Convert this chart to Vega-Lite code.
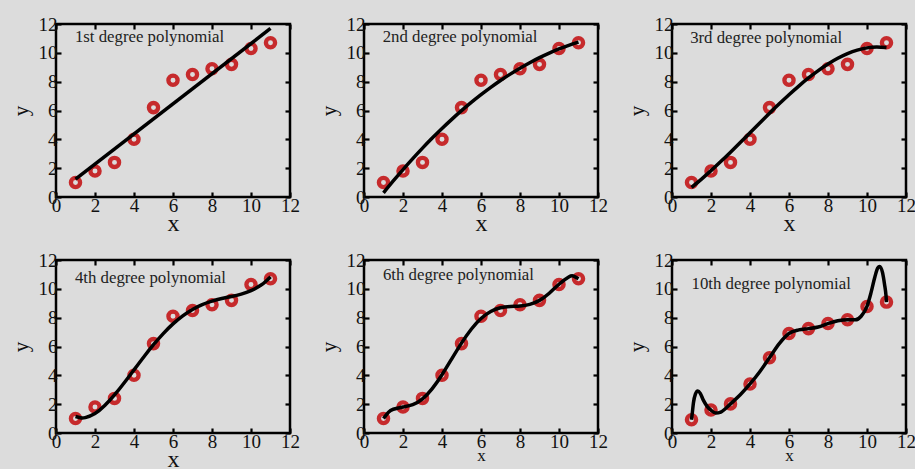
{
  "$schema": "https://vega.github.io/schema/vega-lite/v6.json",
  "background": "#dcdcdc",
  "padding": {"left": 8, "top": 13, "right": 5, "bottom": 2},
  "columns": 3,
  "spacing": {"column": 15, "row": 12},
  "datasets": {
    "obs": [
      {"x": 1, "y": 1.0}, {"x": 2, "y": 1.8}, {"x": 3, "y": 2.4}, {"x": 4, "y": 4.0}, {"x": 5, "y": 6.2}, {"x": 6, "y": 8.1},
      {"x": 7, "y": 8.5}, {"x": 8, "y": 8.9}, {"x": 9, "y": 9.2}, {"x": 10, "y": 10.3}, {"x": 11, "y": 10.7}
    ],
    "obs10": [
      {"x": 1, "y": 0.92}, {"x": 2, "y": 1.6}, {"x": 3, "y": 2.02}, {"x": 4, "y": 3.4}, {"x": 5, "y": 5.22}, {"x": 6, "y": 6.9},
      {"x": 7, "y": 7.24}, {"x": 8, "y": 7.59}, {"x": 9, "y": 7.86}, {"x": 10, "y": 8.78}, {"x": 11, "y": 9.08}
    ],
    "fits": [
      {"deg": 1, "x": 1, "y": 1.24}, {"deg": 1, "x": 11, "y": 11.69},
      {"deg": 2, "x": 1, "y": 0.289}, {"deg": 2, "x": 1.5, "y": 1.112}, {"deg": 2, "x": 2, "y": 1.903}, {"deg": 2, "x": 2.5, "y": 2.663}, {"deg": 2, "x": 3, "y": 3.391}, {"deg": 2, "x": 3.5, "y": 4.087}, {"deg": 2, "x": 4, "y": 4.752}, {"deg": 2, "x": 4.5, "y": 5.385}, {"deg": 2, "x": 5, "y": 5.987}, {"deg": 2, "x": 5.5, "y": 6.557}, {"deg": 2, "x": 6, "y": 7.096}, {"deg": 2, "x": 6.5, "y": 7.603}, {"deg": 2, "x": 7, "y": 8.078}, {"deg": 2, "x": 7.5, "y": 8.522}, {"deg": 2, "x": 8, "y": 8.934}, {"deg": 2, "x": 8.5, "y": 9.315}, {"deg": 2, "x": 9, "y": 9.664}, {"deg": 2, "x": 9.5, "y": 9.981}, {"deg": 2, "x": 10, "y": 10.267}, {"deg": 2, "x": 10.5, "y": 10.521}, {"deg": 2, "x": 11, "y": 10.744},
      {"deg": 3, "x": 1, "y": 0.670}, {"deg": 3, "x": 1.5, "y": 1.228}, {"deg": 3, "x": 2, "y": 1.827}, {"deg": 3, "x": 2.5, "y": 2.457}, {"deg": 3, "x": 3, "y": 3.111}, {"deg": 3, "x": 3.5, "y": 3.781}, {"deg": 3, "x": 4, "y": 4.460}, {"deg": 3, "x": 4.5, "y": 5.138}, {"deg": 3, "x": 5, "y": 5.809}, {"deg": 3, "x": 5.5, "y": 6.464}, {"deg": 3, "x": 6, "y": 7.096}, {"deg": 3, "x": 6.5, "y": 7.696}, {"deg": 3, "x": 7, "y": 8.256}, {"deg": 3, "x": 7.5, "y": 8.769}, {"deg": 3, "x": 8, "y": 9.226}, {"deg": 3, "x": 8.5, "y": 9.620}, {"deg": 3, "x": 9, "y": 9.943}, {"deg": 3, "x": 9.5, "y": 10.187}, {"deg": 3, "x": 10, "y": 10.343}, {"deg": 3, "x": 10.5, "y": 10.405}, {"deg": 3, "x": 11, "y": 10.363},
      {"deg": 4, "x": 1, "y": 1.142}, {"deg": 4, "x": 1.25, "y": 1.055}, {"deg": 4, "x": 1.5, "y": 1.070}, {"deg": 4, "x": 2, "y": 1.355}, {"deg": 4, "x": 2.5, "y": 1.905}, {"deg": 4, "x": 3, "y": 2.639}, {"deg": 4, "x": 3.5, "y": 3.485}, {"deg": 4, "x": 4, "y": 4.381}, {"deg": 4, "x": 4.5, "y": 5.275}, {"deg": 4, "x": 5, "y": 6.124}, {"deg": 4, "x": 5.5, "y": 6.896}, {"deg": 4, "x": 6, "y": 7.568}, {"deg": 4, "x": 6.5, "y": 8.127}, {"deg": 4, "x": 7, "y": 8.571}, {"deg": 4, "x": 7.5, "y": 8.905}, {"deg": 4, "x": 8, "y": 9.147}, {"deg": 4, "x": 8.5, "y": 9.324}, {"deg": 4, "x": 9, "y": 9.471}, {"deg": 4, "x": 9.5, "y": 9.635}, {"deg": 4, "x": 10, "y": 9.871}, {"deg": 4, "x": 10.5, "y": 10.246}, {"deg": 4, "x": 10.75, "y": 10.51}, {"deg": 4, "x": 11, "y": 10.835},
      {"deg": 6, "x": 1, "y": 1.002}, {"deg": 6, "x": 1.25, "y": 1.428}, {"deg": 6, "x": 1.5, "y": 1.647}, {"deg": 6, "x": 2, "y": 1.804}, {"deg": 6, "x": 2.5, "y": 1.963}, {"deg": 6, "x": 3, "y": 2.368}, {"deg": 6, "x": 3.5, "y": 3.080}, {"deg": 6, "x": 4, "y": 4.044}, {"deg": 6, "x": 4.5, "y": 5.143}, {"deg": 6, "x": 5, "y": 6.236}, {"deg": 6, "x": 5.5, "y": 7.199}, {"deg": 6, "x": 6, "y": 7.942}, {"deg": 6, "x": 6.5, "y": 8.430}, {"deg": 6, "x": 7, "y": 8.683}, {"deg": 6, "x": 7.5, "y": 8.773}, {"deg": 6, "x": 8, "y": 8.810}, {"deg": 6, "x": 8.5, "y": 8.919}, {"deg": 6, "x": 9, "y": 9.200}, {"deg": 6, "x": 9.5, "y": 9.693}, {"deg": 6, "x": 10, "y": 10.320}, {"deg": 6, "x": 10.5, "y": 10.823}, {"deg": 6, "x": 10.75, "y": 10.882}, {"deg": 6, "x": 11, "y": 10.695},
      {"deg": 10, "x": 1, "y": 0.92}, {"deg": 10, "x": 1.05, "y": 1.5}, {"deg": 10, "x": 1.1, "y": 2.1}, {"deg": 10, "x": 1.2, "y": 2.7}, {"deg": 10, "x": 1.32, "y": 2.92}, {"deg": 10, "x": 1.45, "y": 2.75}, {"deg": 10, "x": 1.6, "y": 2.3}, {"deg": 10, "x": 1.8, "y": 1.85}, {"deg": 10, "x": 2.0, "y": 1.58}, {"deg": 10, "x": 2.25, "y": 1.38}, {"deg": 10, "x": 2.5, "y": 1.45}, {"deg": 10, "x": 2.75, "y": 1.7}, {"deg": 10, "x": 3.0, "y": 2.02}, {"deg": 10, "x": 3.5, "y": 2.65}, {"deg": 10, "x": 4.0, "y": 3.4}, {"deg": 10, "x": 4.5, "y": 4.25}, {"deg": 10, "x": 5.0, "y": 5.22}, {"deg": 10, "x": 5.5, "y": 6.2}, {"deg": 10, "x": 6.0, "y": 6.9}, {"deg": 10, "x": 6.5, "y": 7.15}, {"deg": 10, "x": 7.0, "y": 7.24}, {"deg": 10, "x": 7.5, "y": 7.35}, {"deg": 10, "x": 8.0, "y": 7.59}, {"deg": 10, "x": 8.5, "y": 7.78}, {"deg": 10, "x": 9.0, "y": 7.86}, {"deg": 10, "x": 9.4, "y": 7.85}, {"deg": 10, "x": 9.7, "y": 8.1}, {"deg": 10, "x": 10.0, "y": 8.78}, {"deg": 10, "x": 10.2, "y": 9.7}, {"deg": 10, "x": 10.4, "y": 10.8}, {"deg": 10, "x": 10.55, "y": 11.45}, {"deg": 10, "x": 10.65, "y": 11.55}, {"deg": 10, "x": 10.8, "y": 11.1}, {"deg": 10, "x": 10.9, "y": 10.3}, {"deg": 10, "x": 10.97, "y": 9.6}, {"deg": 10, "x": 11.0, "y": 9.08}
    ]
  },
  "concat": [
    {
      "width": 234, "height": 173,
      "layer": [
        {"data": {"name": "obs"}, "mark": {"type": "point", "shape": "circle", "filled": false, "color": "#c62a2c", "size": 85, "strokeWidth": 4.3, "opacity": 1},
         "encoding": {"x": {"field": "x", "type": "quantitative", "scale": {"domain": [0, 12]}, "axis": {"title": "x"}},
                      "y": {"field": "y", "type": "quantitative", "scale": {"domain": [0, 12]}, "axis": {"title": "y"}}}},
        {"data": {"name": "fits"}, "transform": [{"filter": "datum.deg == 1"}], "mark": {"type": "line", "color": "#000", "strokeWidth": 3.5, "interpolate": "natural"},
         "encoding": {"x": {"field": "x", "type": "quantitative", "axis": {"orient": "top", "labels": false, "title": null}},
                      "y": {"field": "y", "type": "quantitative", "axis": {"orient": "right", "labels": false, "title": null}}}},
        {"data": {"values": [{"label": "1st degree polynomial"}]}, "mark": {"type": "text", "font": "Liberation Serif", "fontSize": 16.8, "color": "#222", "align": "left", "baseline": "alphabetic"},
         "encoding": {"x": {"datum": 0.97, "type": "quantitative", "axis": null}, "y": {"datum": 10.75, "type": "quantitative", "axis": null}, "text": {"field": "label"}}}
      ],
      "resolve": {"axis": {"x": "independent", "y": "independent"}}
    },
    {
      "width": 234, "height": 173,
      "layer": [
        {"data": {"name": "obs"}, "mark": {"type": "point", "shape": "circle", "filled": false, "color": "#c62a2c", "size": 85, "strokeWidth": 4.3, "opacity": 1},
         "encoding": {"x": {"field": "x", "type": "quantitative", "scale": {"domain": [0, 12]}, "axis": {"title": "x"}},
                      "y": {"field": "y", "type": "quantitative", "scale": {"domain": [0, 12]}, "axis": {"title": "y"}}}},
        {"data": {"name": "fits"}, "transform": [{"filter": "datum.deg == 2"}], "mark": {"type": "line", "color": "#000", "strokeWidth": 3.5, "interpolate": "natural"},
         "encoding": {"x": {"field": "x", "type": "quantitative", "axis": {"orient": "top", "labels": false, "title": null}},
                      "y": {"field": "y", "type": "quantitative", "axis": {"orient": "right", "labels": false, "title": null}}}},
        {"data": {"values": [{"label": "2nd degree polynomial"}]}, "mark": {"type": "text", "font": "Liberation Serif", "fontSize": 16.8, "color": "#222", "align": "left", "baseline": "alphabetic"},
         "encoding": {"x": {"datum": 0.96, "type": "quantitative", "axis": null}, "y": {"datum": 10.75, "type": "quantitative", "axis": null}, "text": {"field": "label"}}}
      ],
      "resolve": {"axis": {"x": "independent", "y": "independent"}}
    },
    {
      "width": 234, "height": 173,
      "layer": [
        {"data": {"name": "obs"}, "mark": {"type": "point", "shape": "circle", "filled": false, "color": "#c62a2c", "size": 85, "strokeWidth": 4.3, "opacity": 1},
         "encoding": {"x": {"field": "x", "type": "quantitative", "scale": {"domain": [0, 12]}, "axis": {"title": "x"}},
                      "y": {"field": "y", "type": "quantitative", "scale": {"domain": [0, 12]}, "axis": {"title": "y"}}}},
        {"data": {"name": "fits"}, "transform": [{"filter": "datum.deg == 3"}], "mark": {"type": "line", "color": "#000", "strokeWidth": 3.5, "interpolate": "natural"},
         "encoding": {"x": {"field": "x", "type": "quantitative", "axis": {"orient": "top", "labels": false, "title": null}},
                      "y": {"field": "y", "type": "quantitative", "axis": {"orient": "right", "labels": false, "title": null}}}},
        {"data": {"values": [{"label": "3rd degree polynomial"}]}, "mark": {"type": "text", "font": "Liberation Serif", "fontSize": 16.8, "color": "#222", "align": "left", "baseline": "alphabetic"},
         "encoding": {"x": {"datum": 0.93, "type": "quantitative", "axis": null}, "y": {"datum": 10.7, "type": "quantitative", "axis": null}, "text": {"field": "label"}}}
      ],
      "resolve": {"axis": {"x": "independent", "y": "independent"}}
    },
    {
      "width": 234, "height": 173,
      "layer": [
        {"data": {"name": "obs"}, "mark": {"type": "point", "shape": "circle", "filled": false, "color": "#c62a2c", "size": 85, "strokeWidth": 4.3, "opacity": 1},
         "encoding": {"x": {"field": "x", "type": "quantitative", "scale": {"domain": [0, 12]}, "axis": {"title": "x"}},
                      "y": {"field": "y", "type": "quantitative", "scale": {"domain": [0, 12]}, "axis": {"title": "y"}}}},
        {"data": {"name": "fits"}, "transform": [{"filter": "datum.deg == 4"}], "mark": {"type": "line", "color": "#000", "strokeWidth": 3.5, "interpolate": "natural"},
         "encoding": {"x": {"field": "x", "type": "quantitative", "axis": {"orient": "top", "labels": false, "title": null}},
                      "y": {"field": "y", "type": "quantitative", "axis": {"orient": "right", "labels": false, "title": null}}}},
        {"data": {"values": [{"label": "4th degree polynomial"}]}, "mark": {"type": "text", "font": "Liberation Serif", "fontSize": 16.8, "color": "#222", "align": "left", "baseline": "alphabetic"},
         "encoding": {"x": {"datum": 0.97, "type": "quantitative", "axis": null}, "y": {"datum": 10.4, "type": "quantitative", "axis": null}, "text": {"field": "label"}}}
      ],
      "resolve": {"axis": {"x": "independent", "y": "independent"}}
    },
    {
      "width": 234, "height": 173,
      "layer": [
        {"data": {"name": "obs"}, "mark": {"type": "point", "shape": "circle", "filled": false, "color": "#c62a2c", "size": 85, "strokeWidth": 4.3, "opacity": 1},
         "encoding": {"x": {"field": "x", "type": "quantitative", "scale": {"domain": [0, 12]}, "axis": {"title": "x", "titleFontSize": 17}},
                      "y": {"field": "y", "type": "quantitative", "scale": {"domain": [0, 12]}, "axis": {"title": "y"}}}},
        {"data": {"name": "fits"}, "transform": [{"filter": "datum.deg == 6"}], "mark": {"type": "line", "color": "#000", "strokeWidth": 3.5, "interpolate": "natural"},
         "encoding": {"x": {"field": "x", "type": "quantitative", "axis": {"orient": "top", "labels": false, "title": null}},
                      "y": {"field": "y", "type": "quantitative", "axis": {"orient": "right", "labels": false, "title": null}}}},
        {"data": {"values": [{"label": "6th degree polynomial"}]}, "mark": {"type": "text", "font": "Liberation Serif", "fontSize": 16.8, "color": "#222", "align": "left", "baseline": "alphabetic"},
         "encoding": {"x": {"datum": 0.97, "type": "quantitative", "axis": null}, "y": {"datum": 10.6, "type": "quantitative", "axis": null}, "text": {"field": "label"}}}
      ],
      "resolve": {"axis": {"x": "independent", "y": "independent"}}
    },
    {
      "width": 234, "height": 173,
      "layer": [
        {"data": {"name": "obs10"}, "mark": {"type": "point", "shape": "circle", "filled": false, "color": "#c62a2c", "size": 85, "strokeWidth": 4.3, "opacity": 1},
         "encoding": {"x": {"field": "x", "type": "quantitative", "scale": {"domain": [0, 12]}, "axis": {"title": "x", "titleFontSize": 17}},
                      "y": {"field": "y", "type": "quantitative", "scale": {"domain": [0, 12]}, "axis": {"title": "y"}}}},
        {"data": {"name": "fits"}, "transform": [{"filter": "datum.deg == 10"}], "mark": {"type": "line", "color": "#000", "strokeWidth": 3.5, "interpolate": "monotone"},
         "encoding": {"x": {"field": "x", "type": "quantitative", "axis": {"orient": "top", "labels": false, "title": null}},
                      "y": {"field": "y", "type": "quantitative", "axis": {"orient": "right", "labels": false, "title": null}}}},
        {"data": {"values": [{"label": "10th degree polynomial"}]}, "mark": {"type": "text", "font": "Liberation Serif", "fontSize": 16.8, "color": "#222", "align": "left", "baseline": "alphabetic"},
         "encoding": {"x": {"datum": 1.0, "type": "quantitative", "axis": null}, "y": {"datum": 10.0, "type": "quantitative", "axis": null}, "text": {"field": "label"}}}
      ],
      "resolve": {"axis": {"x": "independent", "y": "independent"}}
    }
  ],
  "config": {
    "view": {"stroke": "#000", "strokeWidth": 2.5, "fill": "#dcdcdc"},
    "axis": {"grid": false, "domain": false, "ticks": true, "tickSize": -5, "tickWidth": 2.2, "tickColor": "#000",
             "labelFont": "Liberation Serif", "labelFontSize": 19, "labelColor": "#111", "labelPadding": 4,
             "titleFont": "Liberation Serif", "titleFontWeight": "normal", "titleColor": "#111",
             "values": [0, 2, 4, 6, 8, 10, 12], "labelOverlap": false, "labelFlush": false},
    "axisX": {"titleFontSize": 24, "titlePadding": -4},
    "axisY": {"titleFontSize": 21, "titlePadding": 7}
  }
}
